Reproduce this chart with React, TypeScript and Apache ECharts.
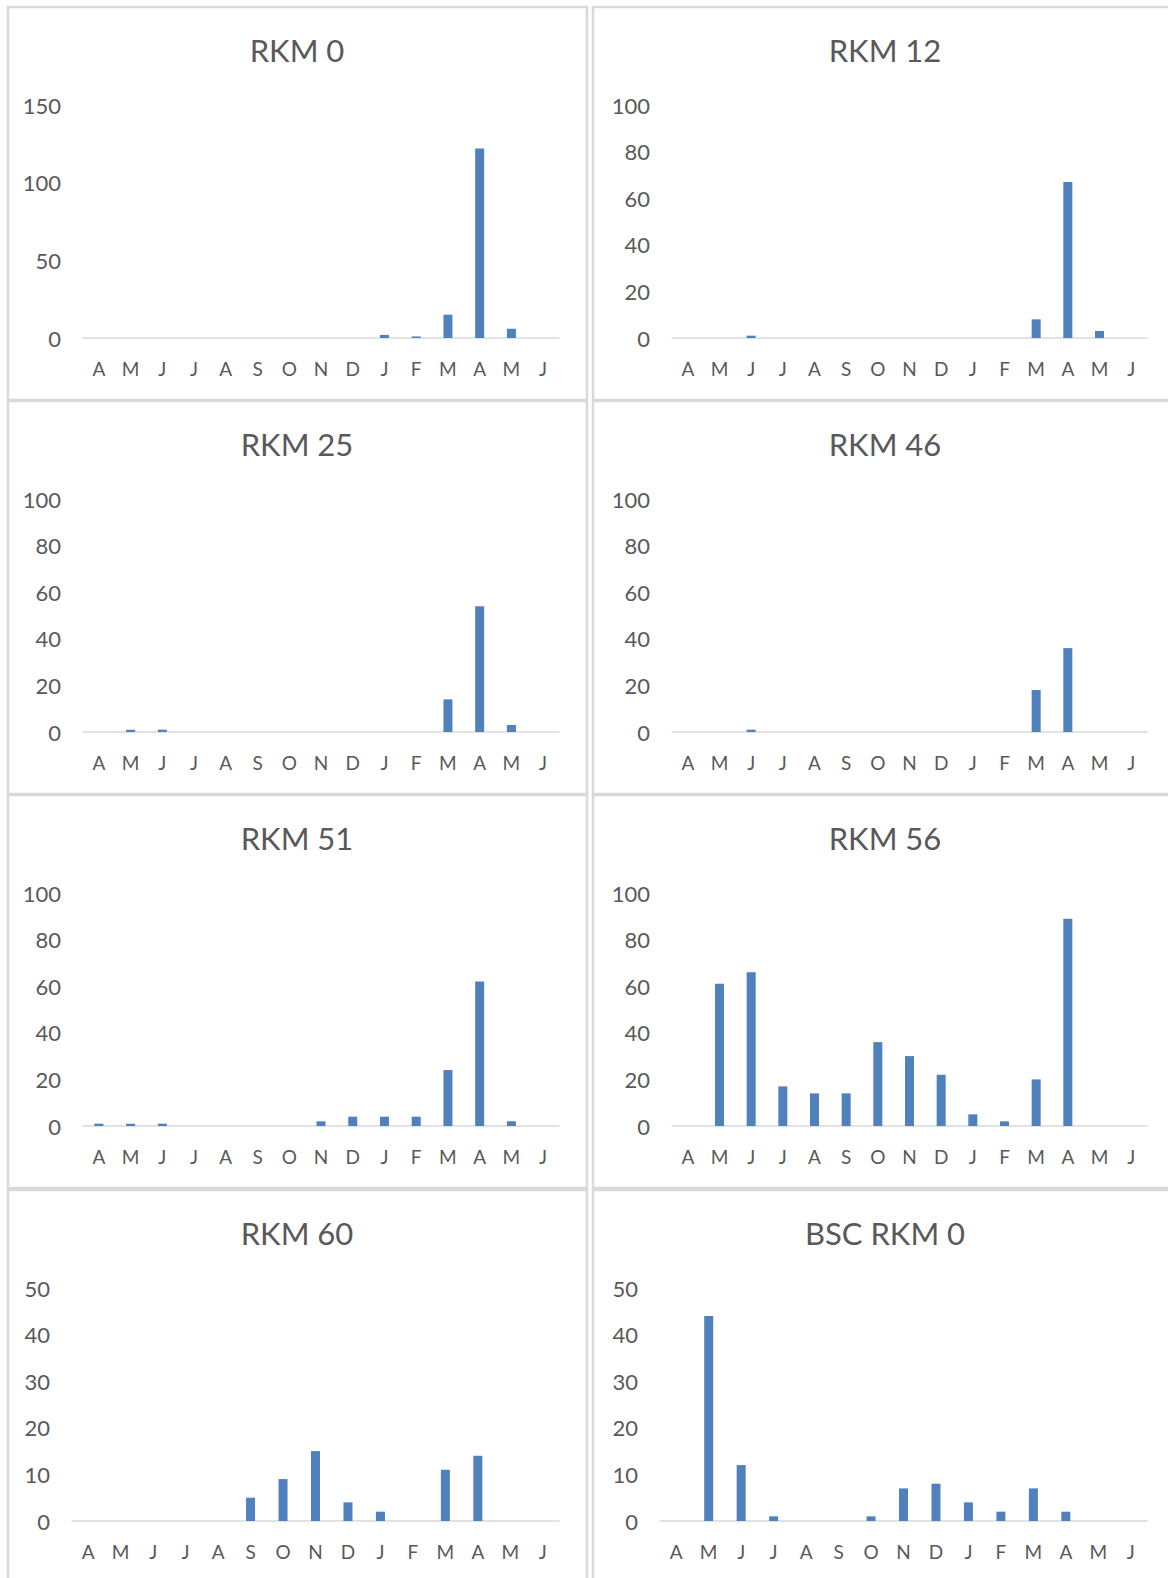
import React, { useEffect, useRef } from "react";
import * as echarts from "echarts";

const months = ["A", "M", "J", "J", "A", "S", "O", "N", "D", "J", "F", "M", "A", "M", "J"];

const titles = ["RKM 0", "RKM 12", "RKM 25", "RKM 46", "RKM 51", "RKM 56", "RKM 60", "BSC RKM 0"];

const rkm0 = [0, 0, 0, 0, 0, 0, 0, 0, 0, 2, 1, 15, 122, 6, 0];
const rkm12 = [0, 0, 1, 0, 0, 0, 0, 0, 0, 0, 0, 8, 67, 3, 0];
const rkm25 = [0, 1, 1, 0, 0, 0, 0, 0, 0, 0, 0, 14, 54, 3, 0];
const rkm46 = [0, 0, 1, 0, 0, 0, 0, 0, 0, 0, 0, 18, 36, 0, 0];
const rkm51 = [1, 1, 1, 0, 0, 0, 0, 2, 4, 4, 4, 24, 62, 2, 0];
const rkm56 = [0, 61, 66, 17, 14, 14, 36, 30, 22, 5, 2, 20, 89, 0, 0];
const rkm60 = [0, 0, 0, 0, 0, 5, 9, 15, 4, 2, 0, 11, 14, 0, 0];
const bscRkm0 = [0, 44, 12, 1, 0, 0, 1, 7, 8, 4, 2, 7, 2, 0, 0];

const seriesData = [rkm0, rkm12, rkm25, rkm46, rkm51, rkm56, rkm60, bscRkm0];
const axisMax = [150, 100, 100, 100, 100, 100, 50, 50];
const axisInterval = [50, 20, 20, 20, 20, 20, 10, 10];

const W = 1168;
const H = 1578;
const FONT = "Lato, 'Open Sans', sans-serif";
const TEXT = "#595959";
const BAR = "#4F81BD";
const LINE = "#D9D9D9";

export default function App() {
  const ref = useRef<HTMLDivElement>(null);

  useEffect(() => {
    if (!ref.current) return;
    const chart = echarts.init(ref.current, undefined, { renderer: "svg", width: W, height: H });

    const rowTops = [6, 400, 794, 1189];
    const colLeft = [8, 593];
    const grids: any[] = [];
    const xAxes: any[] = [];
    const yAxes: any[] = [];
    const series: any[] = [];
    const graphics: any[] = [];

    for (let i = 0; i < 8; i++) {
      const row = Math.floor(i / 2);
      const col = i % 2;
      const top = rowTops[row];
      const lastRow = row === 3;
      const gLeft = col === 0 ? (lastRow ? 72 : 83) : (lastRow ? 660 : 672);
      const gRight = col === 0 ? 559 : 1147;
      const yMaxPx = top + 99;
      const yZeroPx = top + 332;

      grids.push({
        left: gLeft,
        width: gRight - gLeft,
        top: yMaxPx,
        height: yZeroPx - yMaxPx,
        containLabel: false,
      });
      xAxes.push({
        type: "category",
        gridIndex: i,
        data: months,
        axisLine: { show: true, lineStyle: { color: LINE, width: 1.5 } },
        axisTick: { show: false },
        axisLabel: { color: TEXT, fontFamily: FONT, fontSize: 19, margin: 21, interval: 0 },
        splitLine: { show: false },
      });
      yAxes.push({
        type: "value",
        gridIndex: i,
        min: 0,
        max: axisMax[i],
        interval: axisInterval[i],
        axisLine: { show: false },
        axisTick: { show: false },
        splitLine: { show: false },
        axisLabel: { color: TEXT, fontFamily: FONT, fontSize: 22, margin: 22 },
      });
      series.push({
        type: "bar",
        xAxisIndex: i,
        yAxisIndex: i,
        data: seriesData[i],
        barWidth: 9,
        itemStyle: { color: BAR },
      });

      graphics.push({
        type: "rect",
        z: -10,
        shape: { x: colLeft[col], y: top + 1, width: col === 0 ? 579 : 590, height: 393 },
        style: { fill: "none", stroke: LINE, lineWidth: 2.5 },
        silent: true,
      });
      graphics.push({
        type: "text",
        x: col === 0 ? 297 : 885,
        y: top + 44,
        style: {
          text: titles[i],
          fill: TEXT,
          font: `31px ${FONT}`,
          textAlign: "center",
          textVerticalAlign: "middle",
        },
      });
    }

    chart.setOption({
      animation: false,
      backgroundColor: "#ffffff",
      grid: grids,
      xAxis: xAxes,
      yAxis: yAxes,
      series,
      graphic: graphics,
    });

    return () => chart.dispose();
  }, []);

  return (
    <div
      ref={ref}
      style={{ position: "absolute", left: 0, top: 0, width: W, height: H, background: "#fff" }}
    />
  );
}
